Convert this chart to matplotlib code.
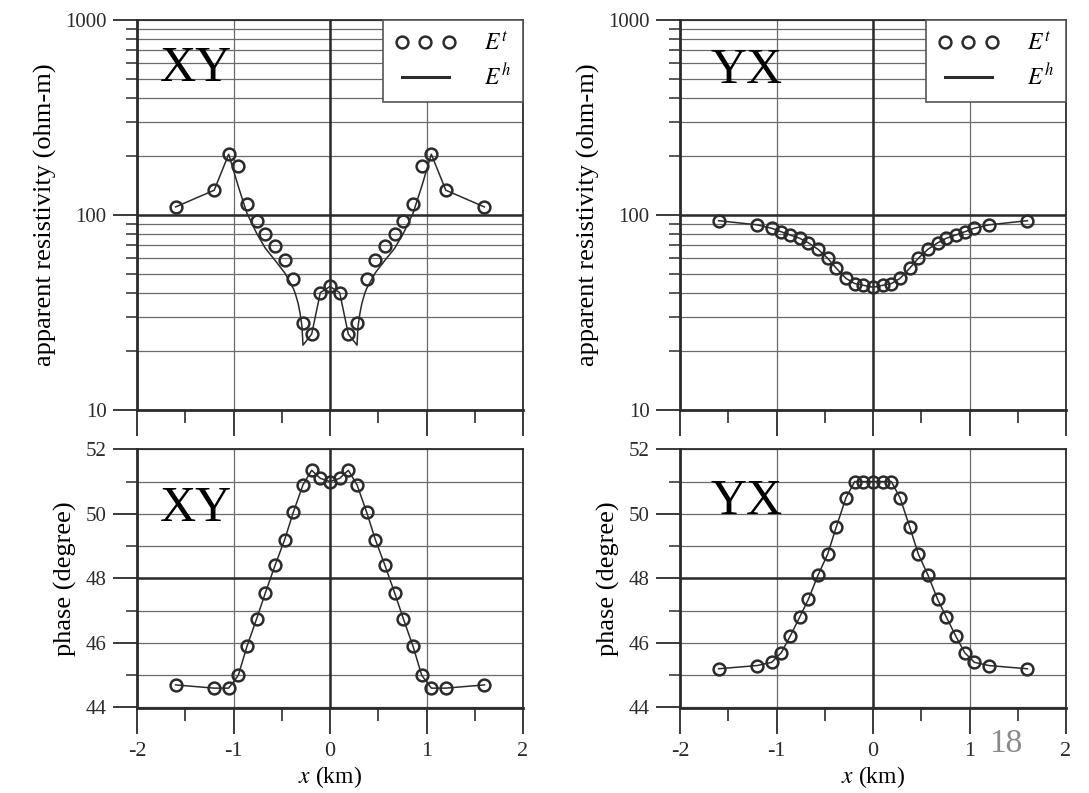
import numpy as np
import matplotlib
matplotlib.use('Agg')
import matplotlib.pyplot as plt
from matplotlib.ticker import LogLocator, NullFormatter

plt.rcParams['font.family'] = ['Liberation Serif', 'DejaVu Serif']
plt.rcParams['mathtext.fontset'] = 'stix'
plt.rcParams['axes.unicode_minus'] = False

# station positions (km)
x = [-1.6, -1.2, -1.05, -0.95, -0.86, -0.76, -0.67, -0.57, -0.47, -0.38, -0.28, -0.19, -0.1, 0.0,
     0.1, 0.19, 0.28, 0.38, 0.47, 0.57, 0.67, 0.76, 0.86, 0.95, 1.05, 1.2, 1.6]

# XY mode
rho_xy = [110, 134, 205, 178, 114, 93, 80, 69, 59, 47, 28, 24.5, 40, 43,
          40, 24.5, 28, 47, 59, 69, 80, 93, 114, 178, 205, 134, 110]
phase_xy = [44.7, 44.6, 44.6, 45.0, 45.9, 46.75, 47.55, 48.4, 49.2, 50.05, 50.9, 51.35, 51.1, 51.0,
            51.1, 51.35, 50.9, 50.05, 49.2, 48.4, 47.55, 46.75, 45.9, 45.0, 44.6, 44.6, 44.7]

# E^h resistivity for XY on its own (finer) x grid
x_rho_xy_h = [-1.6, -1.2, -1.05, -0.95, -0.86, -0.76, -0.67, -0.57, -0.47, -0.38, -0.36, -0.33, -0.31,
              -0.29, -0.28, -0.19, -0.1, 0.0, 0.1, 0.19, 0.28, 0.29, 0.31, 0.33, 0.36, 0.38, 0.47,
              0.57, 0.67, 0.76, 0.86, 0.95, 1.05, 1.2, 1.6]
rho_xy_h = [110, 134, 205, 140, 102, 80.5, 67.5, 58.6, 50.6, 42, 39.6, 35.2, 31.3,
            26.7, 21.5, 24.5, 40, 43, 40, 24.5, 21.5, 26.7, 31.3, 35.2, 39.6, 42, 50.6,
            58.6, 67.5, 80.5, 102, 140, 205, 134, 110]

# YX mode
rho_yx = [93.5, 89, 85.5, 82, 79, 76, 72, 66.7, 60, 53.3, 47.3, 44.5, 43.6, 42.6,
          43.6, 44.5, 47.3, 53.3, 60, 66.7, 72, 76, 79, 82, 85.5, 89, 93.5]
phase_yx = [45.2, 45.3, 45.4, 45.7, 46.2, 46.8, 47.35, 48.1, 48.75, 49.6, 50.5, 51.0, 51.0, 51.0,
            51.0, 51.0, 50.5, 49.6, 48.75, 48.1, 47.35, 46.8, 46.2, 45.7, 45.4, 45.3, 45.2]

ink = '#2b2b2b'
grid_c = '#6a6a6a'
mk = dict(marker='o', ms=8.5, mfc='none', mec=ink, mew=1.8, ls='none', zorder=5)
ln = dict(color=ink, lw=1.1, zorder=4)

fig = plt.figure(figsize=(10.89, 7.93), dpi=100)

W = 386 / 1089
ax_rxy = fig.add_axes([137 / 1089, 1 - 410 / 793, W, 390 / 793])
ax_pxy = fig.add_axes([137 / 1089, 1 - 707.5 / 793, W, 258.2 / 793])
ax_ryx = fig.add_axes([680 / 1089, 1 - 410 / 793, W, 390 / 793])
ax_pyx = fig.add_axes([680 / 1089, 1 - 707.5 / 793, W, 258.2 / 793])


def style(ax, log=False):
    ax.set_xlim(-2, 2)
    ax.set_xticks([-2, -1, 0, 1, 2])
    ax.set_xticks([-1.5, -0.5, 0.5, 1.5], minor=True)
    if log:
        ax.set_yscale('log')
        ax.set_ylim(10, 1000)
        ax.set_yticks([10, 100, 1000])
        ax.set_yticklabels(['10', '100', '1000'])
        ax.yaxis.set_minor_locator(LogLocator(base=10, subs=range(2, 10)))
        ax.yaxis.set_minor_formatter(NullFormatter())
        ax.axhline(100, color=ink, lw=1.8, zorder=2)
    else:
        ax.set_ylim(44, 52)
        ax.set_yticks([44, 46, 48, 50, 52])
        ax.set_yticks([45, 47, 49, 51], minor=True)
        ax.axhline(48, color=ink, lw=1.8, zorder=2)
    ax.axvline(0, color=ink, lw=1.8, zorder=2)
    ax.grid(True, axis='y', which='both', color=grid_c, lw=0.9)
    ax.grid(True, axis='x', which='major', color=grid_c, lw=0.9)
    ax.set_axisbelow(True)
    ax.tick_params(axis='x', which='major', direction='out', length=19, width=1.3, colors=ink,
                   labelsize=16, pad=6)
    ax.tick_params(axis='x', which='minor', direction='out', length=9, width=1.2, colors=ink)
    ax.tick_params(axis='y', which='major', direction='out', length=17, width=1.3, colors=ink,
                   labelsize=15, pad=5)
    ax.tick_params(axis='y', which='minor', direction='out', length=8, width=1.1, colors=ink)
    for side in ['top', 'right']:
        ax.spines[side].set_linewidth(1.3)
        ax.spines[side].set_color(ink)
    for side in ['left', 'bottom']:
        ax.spines[side].set_linewidth(2.0)
        ax.spines[side].set_color(ink)


for ax in [ax_rxy, ax_ryx]:
    style(ax, log=True)
    ax.tick_params(axis='x', labelbottom=False)
for ax in [ax_pxy, ax_pyx]:
    style(ax)
    ax.set_xlabel(r'$x$ (km)', fontsize=17, labelpad=2)

# resistivity panels
ax_rxy.plot(x_rho_xy_h, rho_xy_h, **ln, label=r'$E^h$')
ax_rxy.plot(x, rho_xy, **mk, label=r'$E^t$')
ax_ryx.plot(x, rho_yx, **ln, label=r'$E^h$')
ax_ryx.plot(x, rho_yx, **mk, label=r'$E^t$')

# phase panels
ax_pxy.plot(x, phase_xy, **ln)
ax_pxy.plot(x, phase_xy, **mk)
ax_pyx.plot(x, phase_yx, **ln)
ax_pyx.plot(x, phase_yx, **mk)

for ax in [ax_rxy, ax_ryx]:
    h, l = ax.get_legend_handles_labels()
    leg = ax.legend(h[::-1], l[::-1], loc='upper right', numpoints=3, handlelength=2.6,
                    fontsize=17, frameon=True, fancybox=False, framealpha=1, edgecolor='#555555',
                    borderaxespad=0, borderpad=0.5, handletextpad=1.2, labelspacing=0.4)
    leg.get_frame().set_linewidth(1.2)
    leg.set_zorder(10)
    leg.get_lines()[1].set_linewidth(2.2)

ax_rxy.set_ylabel('apparent resistivity (ohm-m)', fontsize=19, labelpad=6)
ax_ryx.set_ylabel('apparent resistivity (ohm-m)', fontsize=19, labelpad=6)
ax_pxy.set_ylabel('phase (degree)', fontsize=19, labelpad=6)
ax_pyx.set_ylabel('phase (degree)', fontsize=19, labelpad=6)

# mode tags
ax_rxy.text(0.06, 0.875, 'XY', transform=ax_rxy.transAxes, fontsize=36, va='center', ha='left')
ax_pxy.text(0.06, 0.77, 'XY', transform=ax_pxy.transAxes, fontsize=36, va='center', ha='left')
ax_ryx.text(0.08, 0.87, 'YX', transform=ax_ryx.transAxes, fontsize=36, va='center', ha='left')
ax_pyx.text(0.08, 0.795, 'YX', transform=ax_pyx.transAxes, fontsize=36, va='center', ha='left')

# slide number
fig.text(1006 / 1089, 1 - 744 / 793, '18', fontsize=24, color='#8a8a8a', ha='center', va='center')

fig.savefig('out.png', dpi=100)
